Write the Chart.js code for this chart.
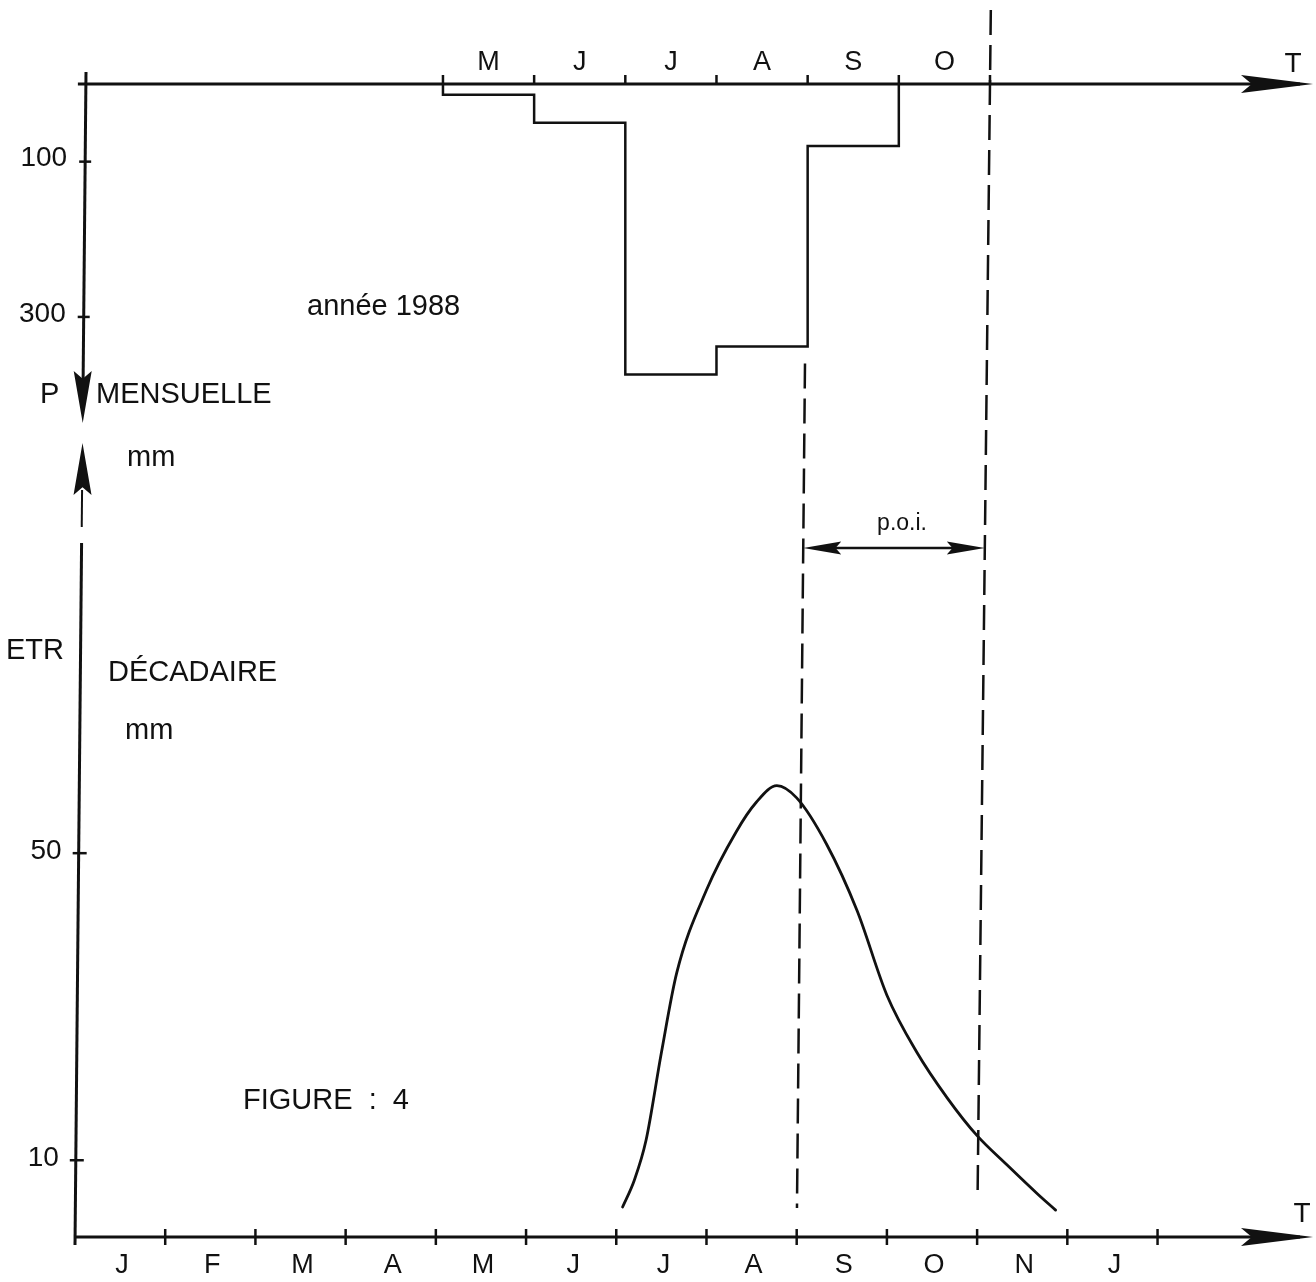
<!DOCTYPE html>
<html>
<head>
<meta charset="utf-8">
<script src="https://cdn.jsdelivr.net/npm/chart.js@4.4.1/dist/chart.umd.min.js"></script>
<style>
    html, body { margin: 0; padding: 0; background: #ffffff; }
    #wrap { width: 1316px; height: 1282px; }
</style>
</head>
<body>
<div id="wrap"><canvas id="figChart" width="1316" height="1282"></canvas></div>
<script>
// P mensuelle (mm), mai -> octobre 1988
const pMonths = ['M', 'J', 'J', 'A', 'S', 'O'];
const pStart = 4; // mai = 4 mois apres le 1er janvier
const pValues = [14, 50, 374, 338, 80, 0];
const pTicks = [100, 300];

// ETR decadaire (mm), x en mois depuis le 1er janvier
const etrMonths = ['J', 'F', 'M', 'A', 'M', 'J', 'J', 'A', 'S', 'O', 'N', 'J'];
const etrX = [6.07, 6.2, 6.33, 6.5, 6.67, 7.0, 7.33, 7.55, 7.78, 8.0, 8.33, 8.67, 9.0, 9.33, 9.67, 10.0, 10.33, 10.67, 10.87];
const etrY = [3.9, 7.4, 12.6, 24, 34.4, 45.2, 52.8, 56.6, 58.8, 57.2, 51.2, 42.5, 31.5, 24.1, 18.1, 13.2, 9.4, 5.6, 3.5];
const etrTicks = [10, 50];

// periode optimale d'intervention : 1er septembre -> 1er novembre
const poi = [8, 10];

const FONT = '"Liberation Sans", Arial, sans-serif';
const INK = '#111111';

function arrowHead(ctx, tipX, tipY, dx, dy, len, half) {
    // dx, dy = direction unitaire de la fleche
    const bx = tipX - dx * len, by = tipY - dy * len;
    const nx = -dy, ny = dx;
    ctx.beginPath();
    ctx.moveTo(tipX, tipY);
    ctx.lineTo(bx + nx * half, by + ny * half);
    ctx.lineTo(tipX - dx * len * 0.85, tipY - dy * len * 0.85);
    ctx.lineTo(bx - nx * half, by - ny * half);
    ctx.closePath();
    ctx.fill();
}

function line(ctx, x1, y1, x2, y2) {
    ctx.beginPath();
    ctx.moveTo(x1, y1);
    ctx.lineTo(x2, y2);
    ctx.stroke();
}

const figurePlugin = {
    id: 'figure',
    afterDatasetsDraw(chart) {
        const ctx = chart.ctx;
        const sx = chart.scales.xTop, bx = chart.scales.xBot;
        const py = chart.scales.yP, ey = chart.scales.yE;
        const top0 = py.getPixelForValue(0);
        const bot0 = ey.getPixelForValue(0);

        // le scan est un peu incline : on relie l'echelle du haut a celle du bas
        const slant = (v, y) => {
            const a = sx.getPixelForValue(v), b = bx.getPixelForValue(v);
            return a + (b - a) * (y - top0) / (bot0 - top0);
        };
        // axe vertical : un peu penche aussi
        const axisX = (y) => bx.getPixelForValue(0) + 11 * (bot0 + 8 - y) / (bot0 + 8 - 72);

        ctx.save();
        ctx.strokeStyle = INK;
        ctx.fillStyle = INK;
        ctx.lineCap = 'butt';

        // axe du temps en haut
        ctx.lineWidth = 3;
        line(ctx, axisX(top0) - 8, top0, 1300, top0);
        arrowHead(ctx, 1313, top0, 1, 0, 72, 9);
        ctx.lineWidth = 2.5;
        for (let m = pStart; m <= pStart + pMonths.length; m++) {
            const x = sx.getPixelForValue(m);
            line(ctx, x, top0, x, top0 - 9);
        }

        // axe du temps en bas
        ctx.lineWidth = 3;
        line(ctx, axisX(bot0), bot0, 1300, bot0);
        arrowHead(ctx, 1313, bot0, 1, 0, 72, 9);
        ctx.lineWidth = 2.5;
        for (let m = 1; m <= etrMonths.length; m++) {
            const x = bx.getPixelForValue(m);
            line(ctx, x, bot0 - 8, x, bot0 + 8);
        }

        // axe vertical P (vers le bas)
        ctx.lineWidth = 3;
        line(ctx, axisX(72), 72, axisX(380), 380);
        arrowHead(ctx, axisX(423), 423, 0, 1, 52, 9);

        // axe vertical ETR (vers le haut)
        ctx.lineWidth = 2;
        line(ctx, axisX(490), 490, axisX(527), 527);
        arrowHead(ctx, axisX(443), 443, 0, -1, 52, 9);
        ctx.lineWidth = 3;
        line(ctx, axisX(543), 543, axisX(bot0 + 8), bot0 + 8);

        // graduations verticales
        ctx.lineWidth = 2.5;
        ctx.font = '28px ' + FONT;
        ctx.textAlign = 'right';
        ctx.textBaseline = 'middle';
        pTicks.forEach(v => {
            const y = py.getPixelForValue(v);
            const x = axisX(y);
            line(ctx, x - 6, y, x + 6, y);
            ctx.fillText(String(v), x - 18, y - 3);
        });
        etrTicks.forEach(v => {
            const y = ey.getPixelForValue(v);
            const x = axisX(y);
            line(ctx, x - 6, y, x + 8, y);
            ctx.fillText(String(v), x - 17, y - 2);
        });

        // mois
        ctx.textAlign = 'center';
        ctx.textBaseline = 'alphabetic';
        ctx.font = '27px ' + FONT;
        pMonths.forEach((lab, i) => {
            ctx.fillText(lab, sx.getPixelForValue(pStart + i + 0.5), top0 - 14);
        });
        etrMonths.forEach((lab, i) => {
            ctx.fillText(lab, bx.getPixelForValue(i + 0.5) + 2, bot0 + 36);
        });
        ctx.font = '28px ' + FONT;
        ctx.fillText('T', 1293, top0 - 12);
        ctx.fillText('T', 1302, bot0 - 15);

        // limites de la p.o.i.
        ctx.lineWidth = 2.5;
        ctx.setLineDash([25, 10]);
        const y1 = py.getPixelForValue(360);
        line(ctx, slant(poi[0], y1), y1, slant(poi[0], 1208), 1208);
        line(ctx, slant(poi[1], 10), 10, slant(poi[1], 1195), 1195);
        ctx.setLineDash([]);

        const ya = 548;
        const xa = slant(poi[0], ya), xb = slant(poi[1], ya);
        ctx.lineWidth = 2.5;
        line(ctx, xa + 20, ya, xb - 20, ya);
        arrowHead(ctx, xa, ya, -1, 0, 38, 6.5);
        arrowHead(ctx, xb, ya, 1, 0, 38, 6.5);
        ctx.font = '23px ' + FONT;
        ctx.fillText('p.o.i.', (xa + xb) / 2 + 8, 530);

        // textes
        ctx.textAlign = 'left';
        ctx.font = '29px ' + FONT;
        ctx.fillText('année 1988', 307, 315);
        ctx.fillText('P', 40, 403);
        ctx.fillText('MENSUELLE', 96, 403);
        ctx.fillText('mm', 127, 466);
        ctx.fillText('ETR', 6, 659);
        ctx.fillText('DÉCADAIRE', 108, 681);
        ctx.fillText('mm', 125, 739);
        ctx.fillText('FIGURE  :  4', 243, 1109);

        ctx.restore();
    }
};

new Chart(document.getElementById('figChart'), {
    type: 'line',
    data: {
        datasets: [
            {
                label: 'P mensuelle',
                data: [{ x: pStart, y: 0 }].concat(pValues.map((v, i) => ({ x: pStart + i, y: v }))),
                xAxisID: 'xTop',
                yAxisID: 'yP',
                stepped: true,
                borderColor: INK,
                borderWidth: 2.5,
                pointRadius: 0,
                fill: false
            },
            {
                label: 'ETR décadaire',
                data: etrX.map((x, i) => ({ x: x, y: etrY[i] })),
                xAxisID: 'xBot',
                yAxisID: 'yE',
                cubicInterpolationMode: 'monotone',
                borderColor: INK,
                borderWidth: 2.8,
                borderCapStyle: 'round',
                pointRadius: 0,
                fill: false
            }
        ]
    },
    options: {
        responsive: false,
        animation: false,
        events: [],
        layout: { padding: { left: 75, right: 6, top: 84, bottom: 45 } },
        plugins: {
            legend: { display: false },
            tooltip: { enabled: false }
        },
        scales: {
            xTop: { type: 'linear', position: 'top', display: false, min: -0.036, max: 13.51 },
            xBot: { type: 'linear', position: 'bottom', display: false, min: 0, max: 13.69 },
            yP: { type: 'linear', position: 'left', display: false, reverse: true, min: 0, max: 1485 },
            yE: { type: 'linear', position: 'left', display: false, min: 0, max: 150.2 }
        }
    },
    plugins: [figurePlugin]
});
</script>
</body>
</html>
